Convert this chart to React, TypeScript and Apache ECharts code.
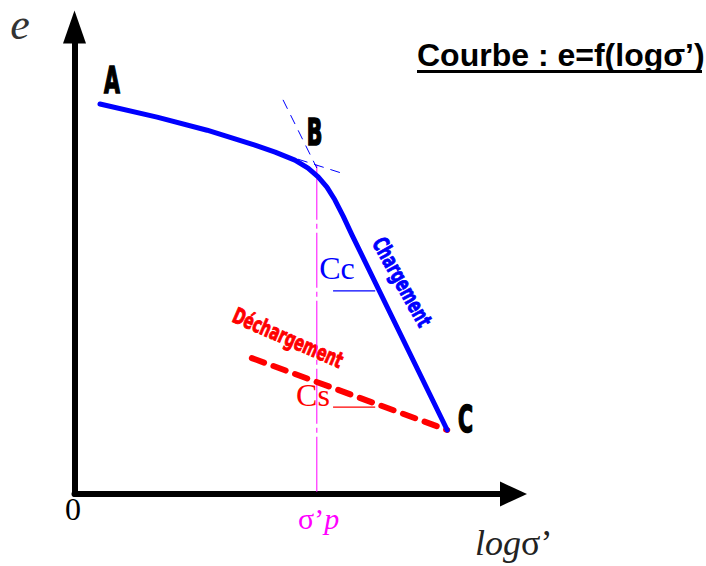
import React, { useEffect, useRef } from 'react';
import * as echarts from 'echarts';

// Oedometer curve e = f(log σ'), in schematic units: log σ' along x, void ratio e along y
const loadingCurve: [number, number][] = [
  [0.58, 8.35], [1.88, 8.07], [3.02, 7.79], [4.11, 7.47], [4.57, 7.32],
  [5.02, 7.15], [5.32, 6.98], [5.55, 6.79], [5.75, 6.57], [5.93, 6.30],
  [6.12, 5.95], [6.32, 5.55], [8.49, 1.37],
];
// Unloading branch (swelling)
const unloadingLine: [number, number][] = [[4.04, 2.91], [8.49, 1.37]];
// Tangents meeting at B (Casagrande construction)
const virginTangent: [number, number][] = [[4.75, 8.44], [5.52, 6.98]];
const recompressionTangent: [number, number][] = [[5.09, 7.17], [6.09, 6.87]];
// Preconsolidation stress σ'p
const preconsolidation: [number, number][] = [[5.52, 7.05], [5.52, 0]];
// Slope markers for Cc and Cs
const ccMarker: [number, number][] = [[5.89, 4.35], [6.85, 4.35]];
const csMarker: [number, number][] = [[5.89, 1.86], [6.85, 1.86]];

const AXIS_MAX = 10;

const heavy = '"Liberation Sans Narrow", "DejaVu Sans Condensed", "Liberation Sans", sans-serif';
const serif = '"Liberation Serif", "DejaVu Serif", serif';

export default function App() {
  const ref = useRef<HTMLDivElement>(null);

  useEffect(() => {
    document.body.style.margin = '0';
    if (!ref.current) return;
    const chart = echarts.init(ref.current, undefined, { renderer: 'svg' });

    const plain = (data: [number, number][], lineStyle: any) => ({
      type: 'line',
      data,
      showSymbol: false,
      silent: true,
      lineStyle,
    });

    const point = (text: string, x: number, y: number) => ({
      type: 'text', x, y, scaleX: 0.6,
      style: {
        text, font: `bold 38px ${heavy}`, fill: '#000', stroke: '#000', lineWidth: 1.6,
        align: 'center', verticalAlign: 'middle',
      },
    });

    chart.setOption({
      animation: false,
      backgroundColor: '#ffffff',
      grid: { left: 74.5, top: 27, width: 439, height: 467 },
      xAxis: {
        type: 'value',
        min: 0,
        max: AXIS_MAX,
        axisLine: {
          show: true,
          onZero: false,
          symbol: ['none', 'triangle'],
          symbolSize: [25, 27],
          lineStyle: { color: '#000', width: 6 },
        },
        axisTick: { show: false },
        axisLabel: { show: false },
        splitLine: { show: false },
      },
      yAxis: {
        type: 'value',
        min: 0,
        max: AXIS_MAX,
        axisLine: {
          show: true,
          onZero: false,
          symbol: ['none', 'triangle'],
          symbolSize: [23, 33],
          lineStyle: { color: '#000', width: 6 },
        },
        axisTick: { show: false },
        axisLabel: { show: false },
        splitLine: { show: false },
      },
      series: [
        plain(preconsolidation, { color: '#ff00ff', width: 1, type: [55, 4, 5, 4] }),
        plain(virginTangent, { color: '#0000ff', width: 1, type: [10, 7] }),
        plain(recompressionTangent, { color: '#0000ff', width: 1, type: [10, 7] }),
        plain(ccMarker, { color: '#0000ff', width: 1.2 }),
        plain(csMarker, { color: '#ff0000', width: 1.2 }),
        plain(unloadingLine, { color: '#ff0000', width: 6, type: [13, 10], cap: 'round' }),
        plain(loadingCurve, { color: '#0000ff', width: 5, cap: 'round', join: 'round' }),
      ],
      graphic: [
        {
          type: 'text', x: 20, y: 24,
          style: { text: 'e', font: `italic 44px ${serif}`, fill: '#333', align: 'center', verticalAlign: 'middle' },
        },
        point('A', 112, 80),
        point('B', 314.5, 131.5),
        point('C', 465.5, 419),
        {
          type: 'text', x: 402, y: 282, rotation: -1.06, scaleX: 0.72,
          style: {
            text: 'Chargement', font: `bold 22px ${heavy}`, fill: '#0000ff', stroke: '#0000ff', lineWidth: 0.9,
            align: 'center', verticalAlign: 'middle',
          },
        },
        {
          type: 'text', x: 288, y: 338, rotation: -0.41, scaleX: 0.72,
          style: {
            text: 'Déchargement', font: `bold 22px ${heavy}`, fill: '#ff0000', stroke: '#ff0000', lineWidth: 0.9,
            align: 'center', verticalAlign: 'middle',
          },
        },
        {
          type: 'text', x: 337, y: 268,
          style: { text: 'Cc', font: `32px ${serif}`, fill: '#0000ff', align: 'center', verticalAlign: 'middle' },
        },
        {
          type: 'text', x: 313, y: 395,
          style: { text: 'Cs', font: `32px ${serif}`, fill: '#ff0000', align: 'center', verticalAlign: 'middle' },
        },
        {
          type: 'text', x: 73, y: 509,
          style: { text: '0', font: `32px ${serif}`, fill: '#000', align: 'center', verticalAlign: 'middle' },
        },
        {
          type: 'text', x: 298, y: 518,
          style: {
            text: '{n|σ’}{i|p}',
            align: 'left',
            verticalAlign: 'middle',
            rich: {
              n: { font: `30px ${serif}`, fill: '#ff00ff' },
              i: { font: `italic 30px ${serif}`, fill: '#ff00ff' },
            },
          },
        },
        {
          type: 'text', x: 475, y: 543,
          style: {
            text: '{i|log}{n|σ’}',
            align: 'left',
            verticalAlign: 'middle',
            rich: {
              i: { font: `italic 36px ${serif}`, fill: '#222' },
              n: { font: `36px ${serif}`, fill: '#222' },
            },
          },
        },
        {
          type: 'text', x: 417, y: 55,
          style: {
            text: 'Courbe : e=f(logσ’)',
            font: 'bold 32px "Liberation Sans", Arial, sans-serif',
            fill: '#000',
            align: 'left',
            verticalAlign: 'middle',
          },
        },
        {
          type: 'rect',
          shape: { x: 417, y: 70, width: 285, height: 3 },
          style: { fill: '#000' },
        },
      ],
    });

    return () => chart.dispose();
  }, []);

  return <div ref={ref} style={{ width: 706, height: 566 }} />;
}
